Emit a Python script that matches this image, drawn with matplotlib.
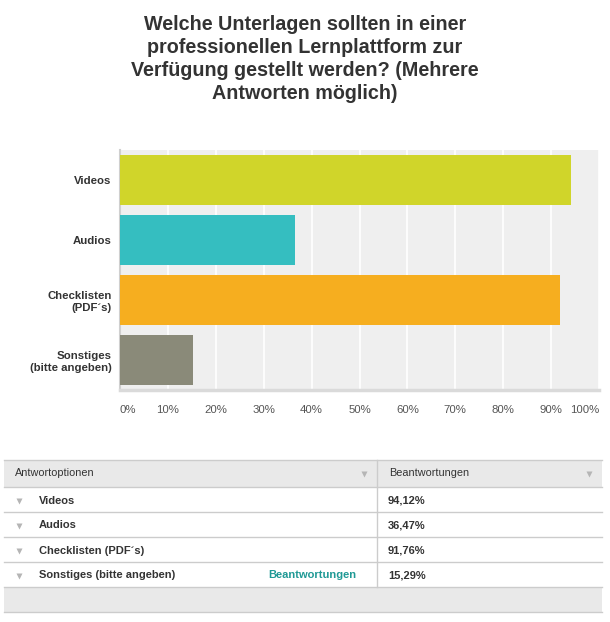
import matplotlib.pyplot as plt
import numpy as np

TITLE = ("Welche Unterlagen sollten in einer\nprofessionellen Lernplattform zur\n"
         "Verfügung gestellt werden? (Mehrere\nAntworten möglich)")
CATEGORIES = ["Videos", "Audios", "Checklisten\n(PDF´s)", "Sonstiges\n(bitte angeben)"]
TABLE_LABELS = ["Videos", "Audios", "Checklisten (PDF´s)", "Sonstiges (bitte angeben)"]
VALUES = [94.12, 36.47, 91.76, 15.29]
COLORS = ["#d0d52a", "#35bec0", "#f6ae1f", "#8a8a79"]
TICKS = np.arange(0, 101, 10)

W, H = 610, 622
plt.rcParams["font.family"] = ["Liberation Sans", "DejaVu Sans"]

fig = plt.figure(figsize=(W / 100, H / 100), dpi=100)

# bar chart area (pixel box: x 120..599, y 150..390)
ax = fig.add_axes((120 / W, 1 - 390 / H, 479 / W, 240 / H))
ax.set_facecolor("#efefef")
y = np.arange(len(CATEGORIES))
ax.barh(y, VALUES, height=0.833, color=COLORS, zorder=3)
ax.set_xlim(0, 100)
ax.set_ylim(3.5, -0.5)
ax.set_xticks(TICKS)
ax.set_xticklabels([f"{t}%" for t in TICKS], fontsize=8.2, color="#555555")
labs = ax.get_xticklabels()
labs[0].set_ha("left")
labs[-1].set_ha("right")
ax.set_yticks(y)
ax.set_yticklabels(CATEGORIES, fontsize=8.2, fontweight="bold", color="#333333")
ax.tick_params(length=0, pad=6)
ax.tick_params(axis="x", pad=11)
ax.grid(axis="x", color="white", lw=1.2, zorder=1)
for s in ("top", "right"):
    ax.spines[s].set_visible(False)
ax.spines["left"].set_color("#cfcfcf")
ax.spines["left"].set_linewidth(1.5)
ax.spines["bottom"].set_color("#dadada")
ax.spines["bottom"].set_linewidth(2.5)

fig.text(0.5, 1 - 59 / H, TITLE, ha="center", va="center", fontsize=14.2,
         fontweight="bold", color="#333333", linespacing=1.27)

# summary table drawn in pixel coordinates
tb = fig.add_axes((0, 0, 1, 1))
tb.set_xlim(0, W)
tb.set_ylim(H, 0)
tb.axis("off")
left, right, mid = 4, 602, 377
top, head_h, row_h = 460, 27, 25
line = dict(color="#cccccc", lw=1)
tb.add_patch(plt.Rectangle((left, top), right - left, head_h, color="#e9e9e9", lw=0))
foot = top + head_h + row_h * len(VALUES)
tb.add_patch(plt.Rectangle((left, foot), right - left, row_h, color="#e9e9e9", lw=0))
tb.plot([left, right], [top, top], **line)
tb.plot([mid, mid], [top, foot], **line)
for k in range(len(VALUES) + 1):
    yy = top + head_h + k * row_h
    tb.plot([left, right], [yy, yy], **line)
tb.plot([left, right], [foot + row_h, foot + row_h], **line)

hy = top + head_h / 2
tb.text(15, hy, "Antwortoptionen", va="center", fontsize=7.8, color="#333333")
tb.text(389, hy, "Beantwortungen", va="center", fontsize=7.8, color="#333333")
tb.plot([364, 589], [hy, hy], "v", color="#b5b5b5", ms=4, mec="none")

for k, (lab, v) in enumerate(zip(TABLE_LABELS, VALUES)):
    ry = top + head_h + k * row_h + row_h / 2 + 1
    tb.plot(19, ry, "v", color="#b5b5b5", ms=4, mec="none")
    tb.text(39, ry, lab, va="center", fontsize=8.0, fontweight="bold", color="#333333")
    tb.text(388, ry, f"{v:.2f}".replace(".", ",") + "%", va="center",
            fontsize=8.0, fontweight="bold", color="#333333")
    if k == len(VALUES) - 1:
        tb.text(356, ry, "Beantwortungen", va="center", ha="right", fontsize=8.0,
                fontweight="bold", color="#1f9995")

fig.savefig("out.png", dpi=100)
